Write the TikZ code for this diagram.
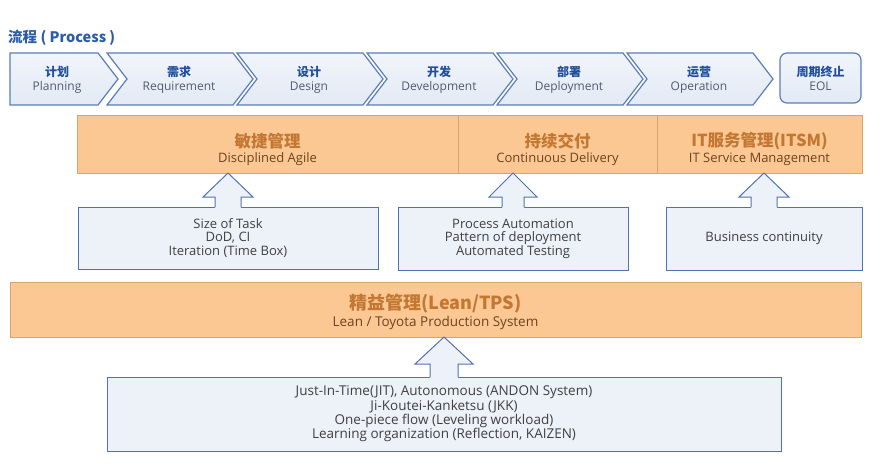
\documentclass[tikz,border=0pt]{standalone}
\usepackage{fontspec}
\setmainfont{Open Sans}
\newfontfamily\cjk{Noto Sans CJK SC}
\usetikzlibrary{calc}

\definecolor{procblue}{HTML}{2A5CAA}
\definecolor{stagecn}{HTML}{1F4E9C}
\definecolor{stageen}{HTML}{505C70}
\definecolor{stageline}{HTML}{5B7DBA}
\definecolor{stagefill}{HTML}{E3EAF5}
\definecolor{boxfill}{HTML}{EDF1F8}
\definecolor{boxline}{HTML}{4F72B3}
\definecolor{leanfill}{HTML}{FBC893}
\definecolor{leanline}{HTML}{D9A46C}
\definecolor{leancn}{HTML}{C27732}
\definecolor{leanen}{HTML}{6E4320}
\definecolor{textgray}{HTML}{404040}

\tikzset{
  stage/.style={draw=stageline, line width=1.2pt, top color=stagefill!50!white, bottom color=stagefill},
  stagetext/.style={align=center, inner sep=0pt, text=stageen, font=\fontsize{12}{14}\selectfont},
  cell/.style={draw=leanline, fill=leanfill, line width=0.8pt, inner sep=0pt, outer sep=0pt},
  cntitle/.style={inner sep=0pt, text=leancn, font=\cjk\bfseries\fontsize{16.5}{18}\selectfont},
  entitle/.style={inner sep=0pt, text=leanen, font=\fontsize{13}{14}\selectfont},
  infobox/.style={draw=boxline, fill=boxfill, line width=1pt, align=center, inner sep=0pt, outer sep=0pt, text=textgray, font=\fontsize{13}{13.5}\selectfont},
  blockarrow/.style={draw=boxline, line width=1pt}
}

\begin{document}
\begin{tikzpicture}[x=1pt, y=-1pt]
  \fill[white] (0,0) rectangle (893,468);
  \useasboundingbox (0,0) rectangle (893,468);

  % process row
  \node[anchor=west, inner sep=0pt, text=procblue, font=\cjk\bfseries\fontsize{14.5}{16}\selectfont] (title) at (8,38) {流程 ( Process )};

  \draw[stage] (10,53) -- (98,53) -- (118,79) -- (98,105) -- (10,105) -- cycle;
  \node[stagetext] (plan) at (57,80) {{\cjk\bfseries\textcolor{stagecn}{计划}}\\Planning};

  \foreach \i/\cn/\en in {1/需求/Requirement, 2/设计/Design, 3/开发/Development, 4/部署/Deployment, 5/运营/Operation} {
    \pgfmathsetmacro\L{107+130*(\i-1)}
    \draw[stage] (\L,53) -- ++(126,0) -- ++(20,26) -- ++(-20,26) -- ++(-126,0) -- ++(20,-26) -- cycle;
    \node[stagetext] (stage\i) at (\L+72,80) {{\cjk\bfseries\textcolor{stagecn}{\cn}}\\\en};
  }

  \node[draw=stageline, line width=1.2pt, top color=stagefill!50!white, bottom color=stagefill,
        rounded corners=7pt, minimum width=81pt, minimum height=50pt, align=center, inner sep=0pt,
        text=stageen, font=\fontsize{12}{14}\selectfont] (eol) at (820.5,78)
        {{\cjk\bfseries\textcolor{stagecn}{周期终止}}\\EOL};

  % practices
  \node[cell, minimum width=381pt, minimum height=58pt] (agile) at (267.5,144) {};
  \node[cell, minimum width=199pt, minimum height=58pt] (cd) at (557.5,144) {};
  \node[cell, minimum width=205pt, minimum height=58pt] (itsm) at (759.5,144) {};
  \node[cntitle] (agilecn) at (267.5,141) {敏捷管理};
  \node[entitle] (agileen) at (267.5,159) {Disciplined Agile};
  \node[cntitle] (cdcn) at (557.5,141) {持续交付};
  \node[entitle] (cden) at (557.5,159) {Continuous Delivery};
  \node[cntitle] (itsmcn) at (759.5,141) {IT服务管理(ITSM)};
  \node[entitle] (itsmen) at (759.5,159) {IT Service Management};

  \node[infobox, minimum width=300pt, minimum height=62pt] (sizebox) at (228,238)
    {Size of Task\\DoD, CI\\Iteration (Time Box)};
  \node[infobox, minimum width=230pt, minimum height=63pt] (cdbox) at (513,238.5)
    {Process Automation\\Pattern of deployment\\Automated Testing};
  \node[infobox, minimum width=196pt, minimum height=63pt] (itsmbox) at (764,238.5)
    {Business continuity};

  % lean
  \node[cell, minimum width=851pt, minimum height=55pt] (lean) at (435.5,309.5) {};
  \node[cntitle, font=\cjk\bfseries\fontsize{18}{20}\selectfont] (leancn) at (435.5,304) {精益管理(Lean/TPS)};
  \node[entitle, font=\fontsize{13.5}{15}\selectfont] (leanen) at (435.5,323) {Lean / Toyota Production System};

  \node[infobox, minimum width=674pt, minimum height=74pt, font=\fontsize{13.5}{14.3}\selectfont] (leanbox) at (444,414)
    {Just-In-Time(JIT), Autonomous (ANDON System)\\Ji-Koutei-Kanketsu (JKK)\\One-piece flow (Leveling workload)\\Learning organization (Reflection, KAIZEN)};

  % block arrows
  \foreach \src/\dst/\hw/\sw/\hl in {sizebox/agile/25/13/24, cdbox/cd/24/11/24, itsmbox/itsm/25/13/24, leanbox/lean/29/14/27} {
    \coordinate (tip) at (\src.north |- \dst.south);
    \fill[boxfill] ($(\src.north)+(-\sw,1)$) -- ($(tip)+(-\sw,\hl)$) -- ($(tip)+(-\hw,\hl)$) -- (tip)
      -- ($(tip)+(\hw,\hl)$) -- ($(tip)+(\sw,\hl)$) -- ($(\src.north)+(\sw,1)$) -- cycle;
    \draw[blockarrow] ($(\src.north)+(-\sw,0)$) -- ($(tip)+(-\sw,\hl)$) -- ($(tip)+(-\hw,\hl)$) -- (tip)
      -- ($(tip)+(\hw,\hl)$) -- ($(tip)+(\sw,\hl)$) -- ($(\src.north)+(\sw,0)$);
  }
\end{tikzpicture}
\end{document}
